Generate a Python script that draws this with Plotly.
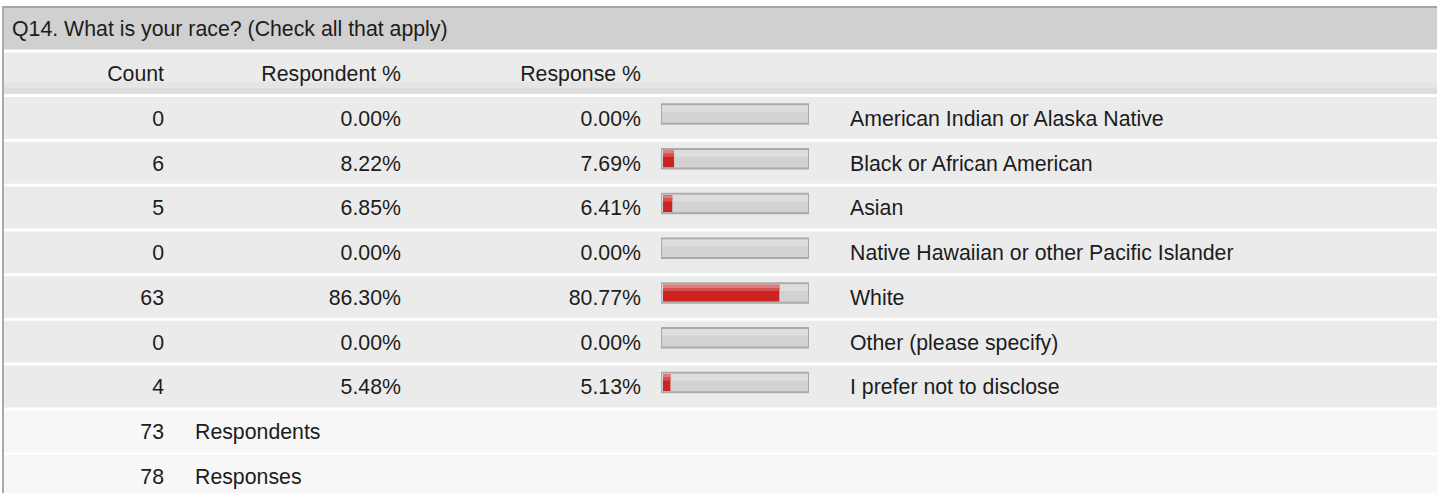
import plotly.graph_objects as go

# ---- data ----
title = "Q14. What is your race? (Check all that apply)"
col_headers = ["Count", "Respondent %", "Response %"]
labels = [
    "American Indian or Alaska Native",
    "Black or African American",
    "Asian",
    "Native Hawaiian or other Pacific Islander",
    "White",
    "Other (please specify)",
    "I prefer not to disclose",
]
counts = [0, 6, 5, 0, 63, 0, 4]
respondent_pct = [0.00, 8.22, 6.85, 0.00, 86.30, 0.00, 5.48]
response_pct = [0.00, 7.69, 6.41, 0.00, 80.77, 0.00, 5.13]
footer_counts = [73, 78]
footer_labels = ["Respondents", "Responses"]

# ---- geometry (pixels) ----
W, H = 1438, 493
ROW = 44.75      # row pitch
Y0 = 120.5       # text centre of first data row
FONT = dict(family="Liberation Sans, Arial, sans-serif", size=21.3, color="#1c1c1c")


def yv(p):
    # pixel y -> row units on the y axis
    return (p - Y0) / ROW


n = len(labels)
rows = list(range(n))
frows = [n + k for k in range(len(footer_counts))]

fig = go.Figure()


def text_col(x, y, text, pos):
    fig.add_trace(go.Scatter(x=[x] * len(y), y=y, text=text, mode="text",
                             textposition=pos, textfont=FONT,
                             hoverinfo="skip", showlegend=False))


# title + column headers
text_col(12, [-2], [title], "middle right")
text_col(164, [-1], [col_headers[0]], "middle left")
text_col(401, [-1], [col_headers[1]], "middle left")
text_col(641, [-1], [col_headers[2]], "middle left")

# data columns
text_col(164, rows, [str(c) for c in counts], "middle left")
text_col(401, rows, [f"{v:.2f}%" for v in respondent_pct], "middle left")
text_col(641, rows, [f"{v:.2f}%" for v in response_pct], "middle left")
text_col(850, rows, labels, "middle right")

# footer
text_col(164, frows, [str(c) for c in footer_counts], "middle left")
text_col(195, frows, footer_labels, "middle right")

# bar tracks (0-100 %) and red fills
fig.add_trace(go.Bar(x=[100] * n, y=rows, orientation="h", xaxis="x2",
                     width=yv(123.7) - yv(104.3), offset=yv(104.3),
                     marker=dict(color="#d2d2d2", line=dict(color="#aaaaaa", width=2)),
                     hoverinfo="skip", showlegend=False))
fig.add_trace(go.Bar(x=[100] * n, y=rows, orientation="h", xaxis="x3",
                     width=yv(112) - yv(105.3), offset=yv(105.3),
                     marker=dict(color="#dddddd", line=dict(width=0)),
                     hoverinfo="skip", showlegend=False))
fig.add_trace(go.Bar(x=response_pct, y=rows, orientation="h", xaxis="x4",
                     width=yv(122.5) - yv(105.8), offset=yv(105.8),
                     marker=dict(color="#cc2222", line=dict(width=0)),
                     hovertemplate="%{x:.2f}%<extra></extra>", showlegend=False))
fig.add_trace(go.Bar(x=response_pct, y=rows, orientation="h", xaxis="x4",
                     width=yv(109) - yv(105.8), offset=yv(105.8),
                     marker=dict(color="#e27c7c", line=dict(width=0)),
                     hoverinfo="skip", showlegend=False))
fig.add_trace(go.Bar(x=response_pct, y=rows, orientation="h", xaxis="x4",
                     width=yv(112) - yv(109), offset=yv(109),
                     marker=dict(color="#d75050", line=dict(width=0)),
                     hoverinfo="skip", showlegend=False))

# ---- table backgrounds ----
shapes = []


def band(y0, y1, color, x0=4, x1=1437):
    shapes.append(dict(type="rect", xref="x", yref="y", x0=x0, x1=x1, y0=y0, y1=y1,
                       line=dict(width=0), fillcolor=color, layer="below"))


band(yv(6), yv(8), "#a4a4a4", x0=2)             # top border
band(yv(8), yv(49.5), "#d0d0d0")                # title strip
band(yv(52.5), yv(82), "#ebebeb")               # column header (gradient)
band(yv(82), yv(88), "#e5e5e5")
band(yv(88), yv(94), "#dedede")
for i in rows:
    band(i + yv(97), i + yv(139), "#ebebeb")
for i in frows:
    band(i + yv(97), i + yv(139), "#f7f7f7")
band(yv(6), yv(H), "#a9a9a9", x0=2, x1=4)        # left border

fig.update_layout(
    shapes=shapes,
    width=W, height=H,
    margin=dict(l=0, r=0, t=0, b=0),
    paper_bgcolor="white", plot_bgcolor="rgba(0,0,0,0)",
    barmode="overlay",
    xaxis=dict(range=[0, W], visible=False, fixedrange=True),
    xaxis2=dict(domain=[661 / W, 809 / W], range=[0, 100], anchor="y", visible=False, fixedrange=True),
    xaxis3=dict(domain=[662 / W, 808 / W], range=[0, 100], anchor="y", visible=False, fixedrange=True),
    xaxis4=dict(domain=[663 / W, 807 / W], range=[0, 100], anchor="y", visible=False, fixedrange=True),
    yaxis=dict(range=[yv(H), yv(0)], visible=False, fixedrange=True),
    showlegend=False,
)

fig.write_html("out.html", config=dict(displayModeBar=False),
               post_script="document.body.style.margin='0';")
